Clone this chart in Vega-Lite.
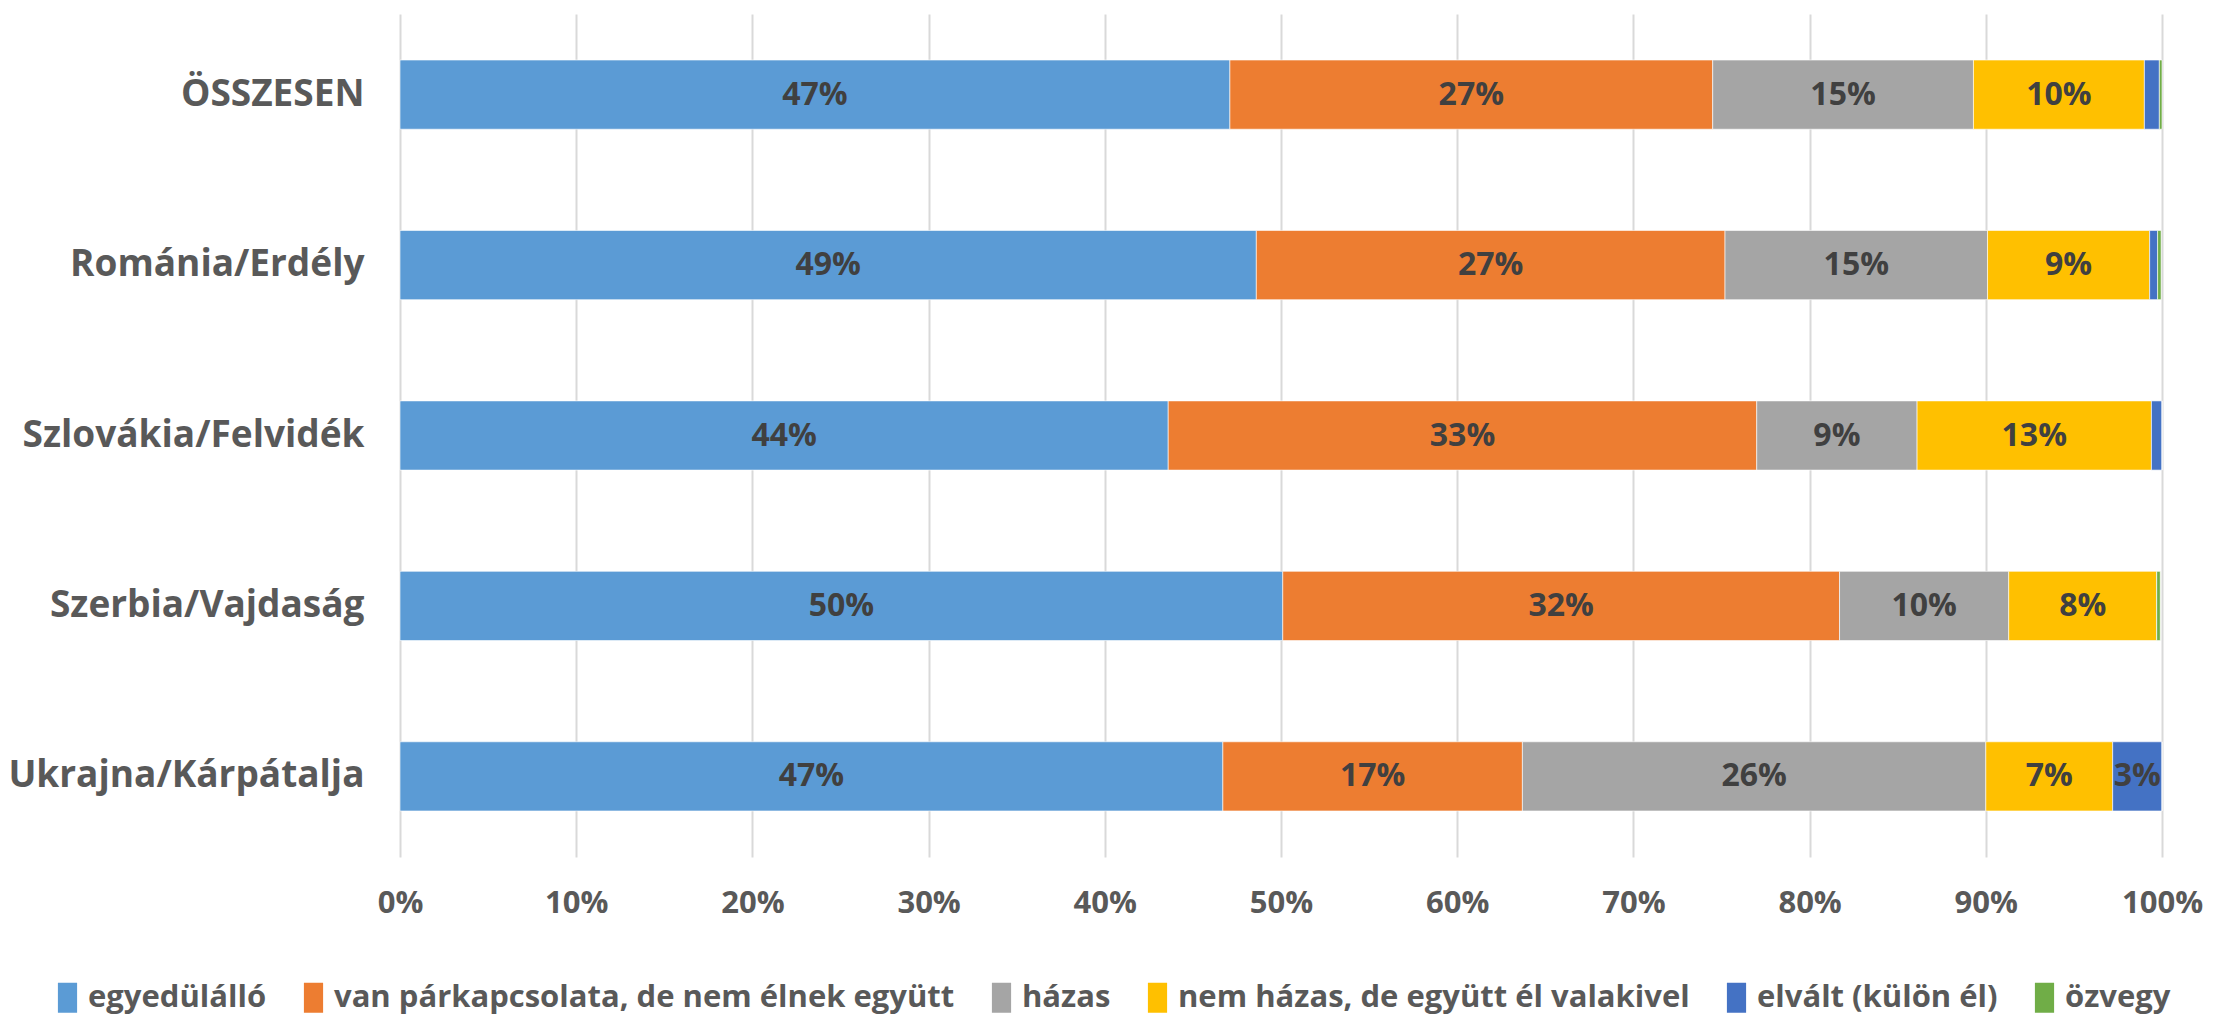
{
  "$schema": "https://vega.github.io/schema/vega-lite/v6.json",
  "autosize": "none",
  "width": 1762,
  "height": 843,
  "padding": {"left": 400, "top": 14, "right": 67, "bottom": 161},
  "background": "white",
  "config": {
    "font": "Open Sans",
    "view": {"stroke": null},
    "axis": {"labelFont": "Open Sans", "labelFontWeight": "bold", "labelColor": "#595959"},
    "legend": {"labelFont": "Open Sans"}
  },
  "data": {"values": [
    {"country": "ÖSSZESEN", "category": "egyedülálló", "n": 1, "v": 0.471},
    {"country": "ÖSSZESEN", "category": "van párkapcsolata, de nem élnek együtt", "n": 2, "v": 0.274},
    {"country": "ÖSSZESEN", "category": "házas", "n": 3, "v": 0.148},
    {"country": "ÖSSZESEN", "category": "nem házas, de együtt él valakivel", "n": 4, "v": 0.097},
    {"country": "ÖSSZESEN", "category": "elvált (külön él)", "n": 5, "v": 0.0085},
    {"country": "ÖSSZESEN", "category": "özvegy", "n": 6, "v": 0.0015},
    {"country": "Románia/Erdély", "category": "egyedülálló", "n": 1, "v": 0.486},
    {"country": "Románia/Erdély", "category": "van párkapcsolata, de nem élnek együtt", "n": 2, "v": 0.266},
    {"country": "Románia/Erdély", "category": "házas", "n": 3, "v": 0.149},
    {"country": "Románia/Erdély", "category": "nem házas, de együtt él valakivel", "n": 4, "v": 0.092},
    {"country": "Románia/Erdély", "category": "elvált (külön él)", "n": 5, "v": 0.0045},
    {"country": "Románia/Erdély", "category": "özvegy", "n": 6, "v": 0.002},
    {"country": "Szlovákia/Felvidék", "category": "egyedülálló", "n": 1, "v": 0.436},
    {"country": "Szlovákia/Felvidék", "category": "van párkapcsolata, de nem élnek együtt", "n": 2, "v": 0.334},
    {"country": "Szlovákia/Felvidék", "category": "házas", "n": 3, "v": 0.091},
    {"country": "Szlovákia/Felvidék", "category": "nem házas, de együtt él valakivel", "n": 4, "v": 0.133},
    {"country": "Szlovákia/Felvidék", "category": "elvált (külön él)", "n": 5, "v": 0.006},
    {"country": "Szlovákia/Felvidék", "category": "özvegy", "n": 6, "v": 0.0},
    {"country": "Szerbia/Vajdaság", "category": "egyedülálló", "n": 1, "v": 0.501},
    {"country": "Szerbia/Vajdaság", "category": "van párkapcsolata, de nem élnek együtt", "n": 2, "v": 0.316},
    {"country": "Szerbia/Vajdaság", "category": "házas", "n": 3, "v": 0.096},
    {"country": "Szerbia/Vajdaság", "category": "nem házas, de együtt él valakivel", "n": 4, "v": 0.084},
    {"country": "Szerbia/Vajdaság", "category": "elvált (külön él)", "n": 5, "v": 0.0},
    {"country": "Szerbia/Vajdaság", "category": "özvegy", "n": 6, "v": 0.002},
    {"country": "Ukrajna/Kárpátalja", "category": "egyedülálló", "n": 1, "v": 0.467},
    {"country": "Ukrajna/Kárpátalja", "category": "van párkapcsolata, de nem élnek együtt", "n": 2, "v": 0.17},
    {"country": "Ukrajna/Kárpátalja", "category": "házas", "n": 3, "v": 0.263},
    {"country": "Ukrajna/Kárpátalja", "category": "nem házas, de együtt él valakivel", "n": 4, "v": 0.072},
    {"country": "Ukrajna/Kárpátalja", "category": "elvált (külön él)", "n": 5, "v": 0.028},
    {"country": "Ukrajna/Kárpátalja", "category": "özvegy", "n": 6, "v": 0.0}
  ]},
  "encoding": {
    "y": {
      "field": "country", "type": "nominal",
      "sort": ["ÖSSZESEN", "Románia/Erdély", "Szlovákia/Felvidék", "Szerbia/Vajdaság", "Ukrajna/Kárpátalja"],
      "scale": {"paddingInner": 0.594, "paddingOuter": 0.27},
      "axis": {"title": null, "domain": false, "ticks": false, "labelPadding": 36, "labelFontSize": 37, "labelLimit": 400}
    },
    "x": {
      "field": "v", "type": "quantitative", "stack": "zero",
      "scale": {"domain": [0, 1]},
      "axis": {"title": null, "format": ".0%", "values": [0, 0.1, 0.2, 0.3, 0.4, 0.5, 0.6, 0.7, 0.8, 0.9, 1],
        "domain": false, "ticks": false, "grid": true, "gridColor": "#D9D9D9", "gridWidth": 2,
        "labelPadding": 31, "labelFontSize": 31, "labelFlush": false}
    },
    "order": {"field": "n", "type": "quantitative"}
  },
  "layer": [
    {
      "mark": {"type": "bar", "stroke": "#ffffff", "strokeWidth": 1, "strokeOpacity": 0.6},
      "encoding": {
        "color": {
          "field": "category", "type": "nominal",
          "sort": ["egyedülálló", "van párkapcsolata, de nem élnek együtt", "házas", "nem házas, de együtt él valakivel", "elvált (külön él)", "özvegy"],
          "scale": {
            "domain": ["egyedülálló", "van párkapcsolata, de nem élnek együtt", "házas", "nem házas, de együtt él valakivel", "elvált (külön él)", "özvegy"],
            "range": ["#5B9BD5", "#ED7D31", "#A5A5A5", "#FFC000", "#4472C4", "#70AD47"]
          },
          "legend": {
            "title": null, "orient": "none", "legendX": -348, "legendY": 968,
            "direction": "horizontal", "columns": 6, "columnPadding": 31,
            "symbolType": "M-0.64,-1H0.64V1H-0.64Z", "symbolSize": 900, "symbolStrokeWidth": 0,
            "labelFontSize": 31, "labelFontWeight": "bold", "labelColor": "#595959",
            "labelOffset": 5, "labelLimit": 800
          }
        }
      }
    },
    {
      "mark": {"type": "text", "fontWeight": "bold", "fontSize": 32, "color": "#404040", "baseline": "middle", "align": "center"},
      "encoding": {
        "x": {"field": "v", "type": "quantitative", "stack": "zero", "bandPosition": 0.5},
        "text": {"condition": {"test": "datum.v >= 0.02", "field": "v", "type": "quantitative", "format": ".0%"}, "value": ""}
      }
    }
  ]
}
